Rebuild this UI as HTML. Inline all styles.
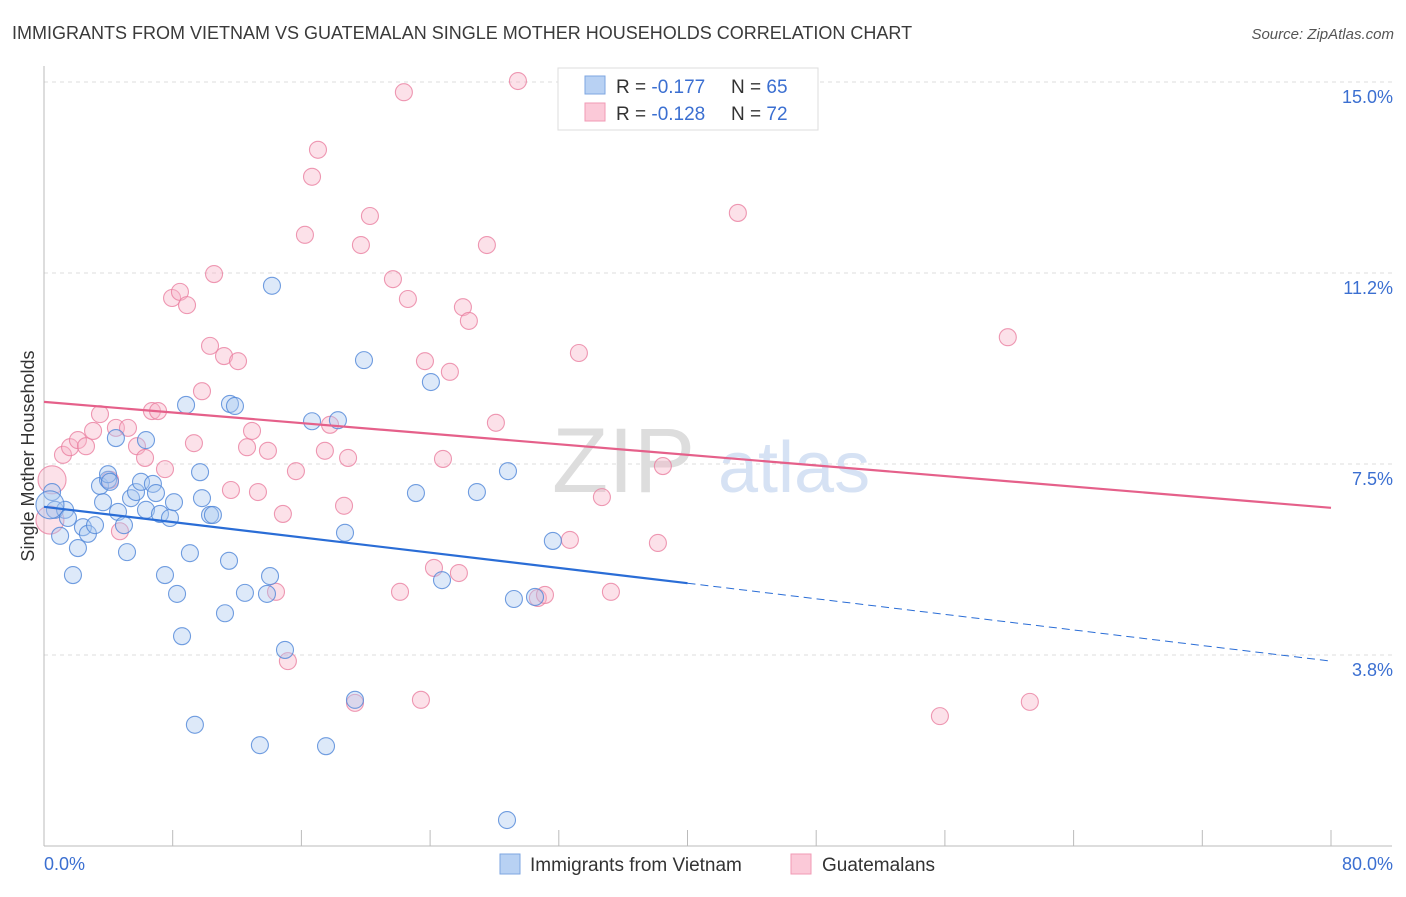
<!DOCTYPE html>
<html><head><meta charset="utf-8"><style>
body{margin:0;background:#fff;font-family:"Liberation Sans",sans-serif}
svg text{font-family:"Liberation Sans",sans-serif}
</style></head><body>
<svg id="c" width="1406" height="892">
<text x="12" y="39" font-size="18" fill="#3a3a3a">IMMIGRANTS FROM VIETNAM VS GUATEMALAN SINGLE MOTHER HOUSEHOLDS CORRELATION CHART</text>
<text x="1394" y="39" font-size="15" fill="#555" font-style="italic" text-anchor="end">Source: ZipAtlas.com</text>
<text x="0" y="0" transform="translate(34,456) rotate(-90)" font-size="18" fill="#333" text-anchor="middle">Single Mother Households</text>
<g id="grid"></g>
<text x="552" y="492" font-size="92" fill="#ddd" font-family="Liberation Serif">ZIP</text>
<text x="718" y="492" font-size="72" fill="#d6e2f4">atlas</text>
<g id="marks"></g>
<g>
<rect x="558" y="68" width="260" height="62" fill="#fff" stroke="#ddd"/>
<rect x="585" y="76" width="20" height="18" fill="#b8d1f3" stroke="#7ea6e0"/>
<rect x="585" y="103" width="20" height="18" fill="#fbc9d8" stroke="#f09ab5"/>
<text x="616" y="93" font-size="19" fill="#333">R = <tspan fill="#3b6fd1">-0.177</tspan></text>
<text x="731" y="93" font-size="19" fill="#333">N = <tspan fill="#3b6fd1">65</tspan></text>
<text x="616" y="120" font-size="19" fill="#333">R = <tspan fill="#3b6fd1">-0.128</tspan></text>
<text x="731" y="120" font-size="19" fill="#333">N = <tspan fill="#3b6fd1">72</tspan></text>
</g>
<g>
<rect x="500" y="854" width="20" height="20" fill="#b8d1f3" stroke="#7ea6e0"/>
<text x="530" y="871" font-size="19" fill="#333">Immigrants from Vietnam</text>
<rect x="791" y="854" width="20" height="20" fill="#fbc9d8" stroke="#f09ab5"/>
<text x="822" y="871" font-size="19" fill="#333">Guatemalans</text>
</g>
</svg>
<script>
const xTickVals=[0,8,16,24,32,40,48,56,64,72,80];
const yTickVals=[3.75,7.5,11.25,15];
const yTickLabels=["3.8%","7.5%","11.2%","15.0%"];
const xEndLabels=["0.0%","80.0%"];
const blueX=[0.50,0.68,1.00,1.31,1.49,1.80,2.11,2.42,2.73,3.17,3.48,3.67,3.98,3.98,4.10,4.47,4.60,4.97,5.16,5.41,5.72,6.03,6.34,6.34,6.77,6.96,7.21,7.52,7.83,8.08,8.27,8.58,8.83,9.07,9.38,9.70,9.82,10.32,10.50,11.25,11.50,11.56,11.87,12.49,13.42,13.86,14.05,14.17,14.98,16.66,17.53,18.27,18.71,19.33,19.89,23.12,24.05,24.74,26.91,28.84,29.21,28.78,30.52,31.63,0.37];
const blueY=[6.95,6.60,6.09,6.60,6.44,5.32,5.85,6.26,6.13,6.30,7.07,6.75,7.19,7.30,7.15,8.01,6.56,6.30,5.77,6.83,6.95,7.15,7.97,6.60,7.11,6.93,6.52,5.32,6.44,6.75,4.95,4.12,8.66,5.75,2.38,7.34,6.83,6.50,6.50,4.57,5.60,8.68,8.64,4.97,1.98,4.95,5.30,11.00,3.85,8.34,1.96,8.36,6.15,2.87,9.54,6.93,9.11,5.22,6.95,7.36,4.85,0.51,4.89,5.99,6.70];
const pinkX=[0.50,0.37,1.18,1.62,2.11,2.61,3.05,3.48,4.10,4.47,4.72,5.22,5.78,6.28,6.71,7.09,7.52,7.96,8.45,8.89,9.32,9.82,10.32,10.57,11.19,11.62,12.06,12.62,12.93,13.30,13.92,14.42,14.85,15.16,15.66,16.22,16.66,17.03,17.46,17.78,18.65,18.90,19.33,19.70,20.26,21.69,22.13,22.37,22.62,23.43,23.68,24.24,24.80,25.23,25.79,26.04,26.41,27.53,28.09,29.46,30.70,31.14,32.69,33.25,34.68,35.24,38.16,38.47,43.13,55.69,59.91,61.28];
const pinkY=[7.19,6.40,7.68,7.83,7.97,7.85,8.15,8.48,7.19,8.21,6.18,8.21,7.85,7.62,8.54,8.54,7.40,10.76,10.88,10.62,7.91,8.93,9.82,11.23,9.62,6.99,9.52,7.83,8.15,6.95,7.76,4.99,6.52,3.63,7.36,12.00,13.14,13.67,7.76,8.27,6.68,7.62,2.81,11.80,12.37,11.13,4.99,14.80,10.74,2.87,9.52,5.46,7.60,9.31,5.36,10.58,10.31,11.80,8.31,15.02,4.87,4.93,6.01,9.68,6.85,4.99,5.95,7.46,12.43,2.55,9.99,2.83];
const blueTrend=[6.66,5.16,3.63];
const pinkTrend=[8.72,6.64];
const X=v=>44+v*1287/80, Y=v=>846-v*50.93;
const NS="http://www.w3.org/2000/svg";
function mk(tag,attrs,parent){const e=document.createElementNS(NS,tag);for(const k in attrs)e.setAttribute(k,attrs[k]);parent.appendChild(e);return e;}
const grid=document.getElementById('grid'), marks=document.getElementById('marks');
yTickVals.forEach((v,i)=>{
  const l=mk('line',{x1:44,x2:1392,y1:Y(v),y2:Y(v),stroke:'#ddd','stroke-dasharray':'4,4'},grid);
  
  
  const t=mk('text',{x:1393,y:Y(v)+21,'font-size':18,fill:'#3b6fd1','text-anchor':'end'},grid);
  t.textContent=yTickLabels[i];
  
  
});
const ax=mk('line',{x1:44,x2:1392,y1:846,y2:846,stroke:'#bbb'},grid);


const ay=mk('line',{x1:44,x2:44,y1:66,y2:846,stroke:'#bbb'},grid);


xTickVals.forEach(v=>{
  const l=mk('line',{x1:X(v),x2:X(v),y1:830,y2:846,stroke:'#bbb'},grid);
  
  
});
[[0,'start',44],[80,'end',1393]].forEach((d,i)=>{
  const t=mk('text',{x:d[2],y:870,'font-size':18,fill:'#3b6fd1','text-anchor':d[1]},grid);
  t.textContent=xEndLabels[i];
  
  
});
function dots(xs,ys,fill,stroke,name,bigIdx){
  xs.forEach((x,i)=>{
    const r=bigIdx.includes(i)?14:8.5;
    const c=mk('circle',{cx:X(x),cy:Y(ys[i]),r:r,fill:fill,'fill-opacity':0.4,stroke:stroke,'stroke-opacity':0.8,'stroke-width':1.1},marks);
    
    
  });
}
dots(pinkX,pinkY,'#f8b4c8','#ea7fa0','point-guatemalan',[0,1]);
dots(blueX,blueY,'#a9c7f0','#4f86d8','point-vietnam',[64]);
const bl=mk('line',{x1:X(0),y1:Y(blueTrend[0]),x2:X(40),y2:Y(blueTrend[1]),stroke:'#2a6dd6','stroke-width':2.2},marks);


const bd=mk('line',{x1:X(40),y1:Y(blueTrend[1]),x2:X(80),y2:Y(blueTrend[2]),stroke:'#2a6dd6','stroke-width':1,'stroke-dasharray':'8,5'},marks);


const pl=mk('line',{x1:X(0),y1:Y(pinkTrend[0]),x2:X(80),y2:Y(pinkTrend[1]),stroke:'#e5608a','stroke-width':2.2},marks);


</script>
</body></html>
